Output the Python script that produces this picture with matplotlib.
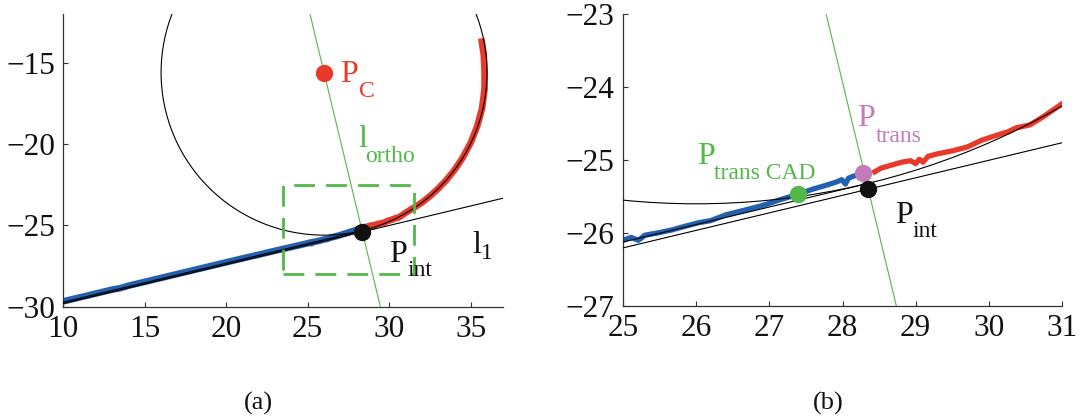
import numpy as np
import matplotlib
matplotlib.use("Agg")
import matplotlib.pyplot as plt
from matplotlib.patches import Circle, Rectangle

plt.rcParams["font.family"] = ["Liberation Serif", "DejaVu Serif"]
plt.rcParams["axes.unicode_minus"] = True

# ---- measured trajectory: straight approach (blue) and curved part (red) ----
blue_x = [10.0, 11.0, 12.0, 13.0, 13.5, 14.0, 15.0, 16.0, 17.0, 18.0, 19.0,
          20.0, 21.0, 22.0, 23.0, 24.0, 25.0, 25.11, 25.21, 25.30, 25.47,
          25.66, 25.84, 26.03, 26.20, 26.41, 26.69, 26.88, 26.98, 27.16,
          27.39, 27.59, 27.73, 27.92, 27.99, 28.04, 28.08, 28.18]
blue_y = [-29.67, -29.43, -29.19, -28.95, -28.86, -28.71, -28.47, -28.23,
          -27.99, -27.75, -27.51, -27.27, -27.03, -26.80, -26.56, -26.33,
          -26.10, -26.06, -26.10, -26.03, -26.00, -25.96, -25.91, -25.86,
          -25.83, -25.75, -25.68, -25.63, -25.60, -25.54, -25.47, -25.40,
          -25.36, -25.30, -25.27, -25.33, -25.25, -25.21]

red_x = [28.41, 28.53, 28.67, 28.81, 28.93, 29.00, 29.05, 29.10, 29.17,
         29.28, 29.52, 29.71, 29.90, 30.08, 30.27, 30.37, 30.56, 30.74,
         31.00, 31.50, 32.00, 32.50, 33.00, 33.50, 34.00, 34.50, 35.00,
         35.40, 35.70, 35.85, 35.85, 35.80, 35.65]
red_y = [-25.18, -25.11, -25.07, -25.03, -25.01, -25.05, -24.99, -25.03,
         -24.95, -24.92, -24.87, -24.82, -24.73, -24.67, -24.61, -24.56,
         -24.52, -24.41, -24.23, -23.92, -23.60, -23.20, -22.74, -22.22,
         -21.60, -20.85, -19.92, -18.90, -17.80, -16.60, -15.50, -14.50,
         -13.50]

# ---- geometric construction ----
circle_center = (26.0, -15.6)     # P_C
circle_radius = 10.0
l1_point = (28.35, -25.4)         # P_int
l1_slope = 0.24
p_trans = (28.28, -25.18)
p_trans_cad = (27.39, -25.47)

# zoom window shown in panel (b)
zoom_box = (23.5, -28.0, 31.5, -22.5)

left_xticks = [10, 15, 20, 25, 30, 35]
left_yticks = [-30, -25, -20, -15]
right_xticks = [25, 26, 27, 28, 29, 30, 31]
right_yticks = [-27, -26, -25, -24, -23]

RED = "#E83A2A"
BLUE = "#2261B0"
GREEN = "#52B84A"
PINK = "#C67BB8"
AXIS = "#333333"
INK = "#111111"

fig = plt.figure(figsize=(10.81, 4.19), dpi=100)
W, H = 1081.0, 419.0
ax_a = fig.add_axes([63.3 / W, 1 - 306.7 / H, 440.0 / W, 292.7 / H])
ax_b = fig.add_axes([623.0 / W, 1 - 306.0 / H, 439.0 / W, 292.0 / H])

# tangent point of the circle for lines with slope l1_slope
theta = np.arctan(l1_slope)
tang_x = circle_center[0] + circle_radius * np.sin(theta)
tang_y = circle_center[1] - circle_radius * np.cos(theta)


def draw_construction(ax, data_lw):
    ax.plot(blue_x, blue_y, color=BLUE, lw=data_lw, solid_capstyle="butt",
            solid_joinstyle="round", zorder=2)
    ax.plot(red_x, red_y, color=RED, lw=data_lw, solid_capstyle="butt",
            solid_joinstyle="round", zorder=2)
    ax.add_patch(Circle(circle_center, circle_radius, fill=False,
                        ec="black", lw=0.8, zorder=3))
    ax.axline(l1_point, slope=l1_slope, color="black", lw=0.8, zorder=3)
    ax.plot([0, tang_x], [tang_y - l1_slope * tang_x, tang_y],
            color="black", lw=0.8, zorder=3)
    ax.axline(circle_center, slope=-1.0 / l1_slope, color=GREEN, lw=0.8,
              zorder=3)


def style_axes(ax, xlim, ylim, xticks, yticks):
    ax.set_xlim(*xlim)
    ax.set_ylim(*ylim)
    ax.set_xticks(xticks)
    ax.set_yticks(yticks)
    for side in ("top", "right"):
        ax.spines[side].set_visible(False)
    for side in ("left", "bottom"):
        ax.spines[side].set_color(AXIS)
        ax.spines[side].set_linewidth(0.9)
    ax.tick_params(direction="in", length=3.5, width=0.8, color=AXIS,
                   labelsize=22.5, pad=6, labelcolor=INK)


def label(ax, main, sub, main_xy, sub_xy, color, main_size=23, sub_size=17):
    ax.text(*main_xy, main, color=color, fontsize=main_size,
            ha="left", va="baseline", zorder=6)
    ax.text(*sub_xy, sub, color=color, fontsize=sub_size,
            ha="left", va="baseline", zorder=6)


# ---- panel (a) ----
draw_construction(ax_a, 4.8)
x0, y0, x1, y1 = zoom_box
ax_a.add_patch(Rectangle((x0, y0), x1 - x0, y1 - y0, fill=False, ec=GREEN,
                         lw=2.0, ls=(0, (7.5, 4)), zorder=4))
ax_a.plot(*circle_center, "o", color=RED, ms=12.5, mec="none", zorder=5)
ax_a.plot(*l1_point, "o", color=INK, ms=12.5, mec="none", zorder=5)
label(ax_a, "P", "C", (27.00, -16.2), (28.15, -17.12), RED)
label(ax_a, "l", "ortho", (28.12, -20.18), (28.55, -21.10), GREEN)
label(ax_a, "P", "int", (30.02, -27.24), (31.10, -28.12), INK)
label(ax_a, "l", "1", (35.10, -26.72), (35.63, -27.09), INK)
style_axes(ax_a, (10, 37), (-30, -12), left_xticks, left_yticks)

# ---- panel (b) ----
draw_construction(ax_b, 3.8)
ax_b.plot(*p_trans_cad, "o", color=GREEN, ms=12.5, mec="none", zorder=5)
ax_b.plot(*p_trans, "o", color=PINK, ms=12.5, mec="none", zorder=5)
ax_b.plot(*l1_point, "o", color=INK, ms=12.5, mec="none", zorder=5)
label(ax_b, "P", "trans CAD", (26.01, -25.05), (26.24, -25.26), GREEN)
label(ax_b, "P", "trans", (28.20, -24.54), (28.45, -24.75), PINK)
label(ax_b, "P", "int", (28.72, -25.86), (28.95, -26.05), INK)
style_axes(ax_b, (25, 31), (-27, -23), right_xticks, right_yticks)

fig.text(258 / W, 1 - 403 / H, "(a)", fontsize=19, ha="center", va="center",
         color=INK)
fig.text(828 / W, 1 - 403 / H, "(b)", fontsize=19, ha="center", va="center",
         color=INK)

fig.savefig("out.png", dpi=100)
